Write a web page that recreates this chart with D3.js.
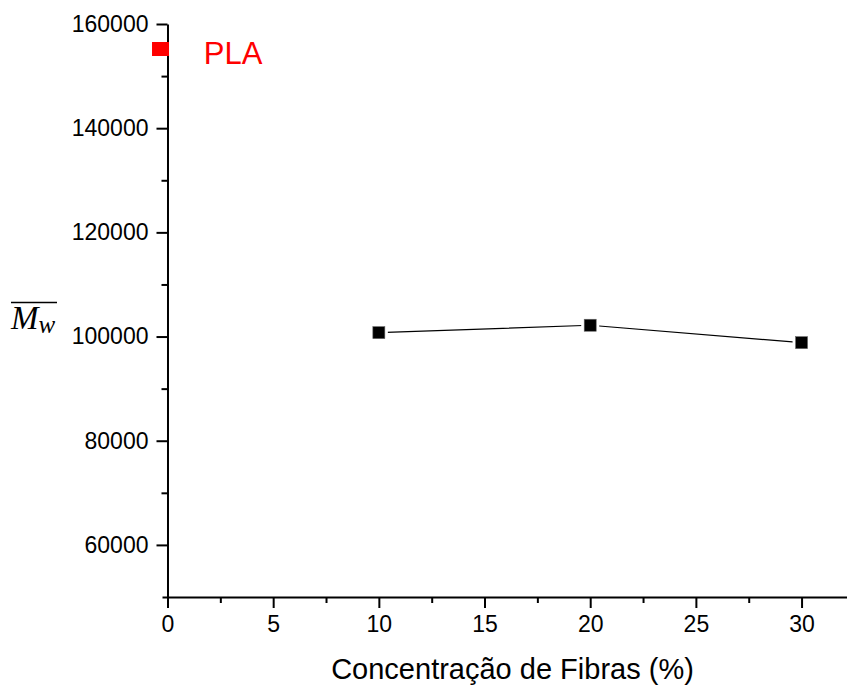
<!DOCTYPE html>
<html>
<head>
<meta charset="utf-8">
<script src="https://cdn.jsdelivr.net/npm/d3@7"></script>
<style>
  html, body { margin: 0; padding: 0; background: #fff; }
  svg { display: block; }
</style>
</head>
<body>
<svg id="chart" width="847" height="686"></svg>
<script>
// ---- data ----
const fiberConc = [10, 20, 30];
const mwValues = [100750, 102170, 98830];
const plaConc = [-0.33];
const plaMw = [155200];
const plaLabel = "PLA";
const xTicks = [0, 5, 10, 15, 20, 25, 30];
const xMinorTicks = [2.5, 7.5, 12.5, 17.5, 22.5, 27.5];
const yTicks = [60000, 80000, 100000, 120000, 140000, 160000];
const yMinorTicks = [70000, 90000, 110000, 130000, 150000];
const xTitle = "Concentração de Fibras (%)";

// ---- chart ----
const svg = d3.select("#chart");
const font = "Arial, 'Liberation Sans', sans-serif";

const x = d3.scaleLinear().domain([-0.26, 32.15]).range([162, 847]);
const y = d3.scaleLinear().domain([50000, 160000]).range([597, 24]);

function styleAxis(g) {
  g.selectAll("path.domain").attr("stroke", "#000").attr("stroke-width", 2);
  g.selectAll(".tick line").attr("stroke", "#000").attr("stroke-width", 2);
  g.selectAll(".tick text").attr("fill", "#000").style("font-family", font).style("font-size", "23px");
}

// x axis
const gx = svg.append("g").attr("transform", `translate(0,${y(50000)})`)
  .call(d3.axisBottom(x).tickValues(xTicks).tickFormat(d3.format("d")).tickSize(11).tickSizeOuter(0).tickPadding(8));
styleAxis(gx);
const gxm = svg.append("g").attr("transform", `translate(0,${y(50000)})`)
  .call(d3.axisBottom(x).tickValues(xMinorTicks).tickFormat("").tickSize(6).tickSizeOuter(0));
styleAxis(gxm);
gxm.select("path.domain").remove();

// y axis
const gy = svg.append("g").attr("transform", `translate(${x(0)},0)`)
  .call(d3.axisLeft(y).tickValues(yTicks).tickFormat(d3.format("d")).tickSize(11).tickSizeOuter(0).tickPadding(8));
styleAxis(gy);
const gym = svg.append("g").attr("transform", `translate(${x(0)},0)`)
  .call(d3.axisLeft(y).tickValues(yMinorTicks).tickFormat("").tickSize(6).tickSizeOuter(0));
styleAxis(gym);
gym.select("path.domain").remove();

// line
const pts = fiberConc.map((c, i) => [c, mwValues[i]]);
svg.append("path")
  .datum(pts)
  .attr("fill", "none")
  .attr("stroke", "#000")
  .attr("stroke-width", 1.2)
  .attr("d", d3.line().x(d => x(d[0])).y(d => y(d[1])));

// markers (white halo then black square)
const ms = 12;
svg.selectAll("rect.halo").data(pts).enter().append("rect")
  .attr("class", "halo")
  .attr("x", d => x(d[0]) - ms / 2 - 3).attr("y", d => y(d[1]) - ms / 2 - 3)
  .attr("width", ms + 6).attr("height", ms + 6).attr("fill", "#fff");
svg.selectAll("rect.mk").data(pts).enter().append("rect")
  .attr("class", "mk")
  .attr("x", d => x(d[0]) - ms / 2).attr("y", d => y(d[1]) - ms / 2)
  .attr("width", ms).attr("height", ms)
  .attr("fill", "#000").attr("stroke", "#666").attr("stroke-width", 0.6);

// PLA marker
const plaPts = plaConc.map((c, i) => [c, plaMw[i]]);
svg.selectAll("rect.pla").data(plaPts).enter().append("rect")
  .attr("class", "pla")
  .attr("x", d => x(d[0]) - 8.5).attr("y", d => y(d[1]) - 7)
  .attr("width", 17).attr("height", 14).attr("fill", "#ff0000");

svg.append("text")
  .attr("x", x(1.72)).attr("y", y(plaMw[0]) + 15)
  .attr("fill", "#ff0000")
  .style("font-family", font).style("font-size", "31px")
  .text(plaLabel);

// x title
svg.append("text")
  .attr("x", (333 + 692) / 2).attr("y", 679)
  .attr("text-anchor", "middle")
  .attr("fill", "#000")
  .style("font-family", font).style("font-size", "29px")
  .text(xTitle);

// y title: overline M_w
const yt = svg.append("text")
  .attr("x", 11).attr("y", 329)
  .attr("fill", "#000")
  .style("font-family", "'Liberation Serif', 'DejaVu Serif', serif")
  .style("font-style", "italic");
yt.append("tspan").style("font-size", "33px").text("M");
yt.append("tspan").style("font-size", "25px").attr("dy", 4).text("w");
svg.append("line")
  .attr("x1", 11).attr("x2", 57).attr("y1", 302.5).attr("y2", 302.5)
  .attr("stroke", "#000").attr("stroke-width", 1.5);
</script>
</body>
</html>
